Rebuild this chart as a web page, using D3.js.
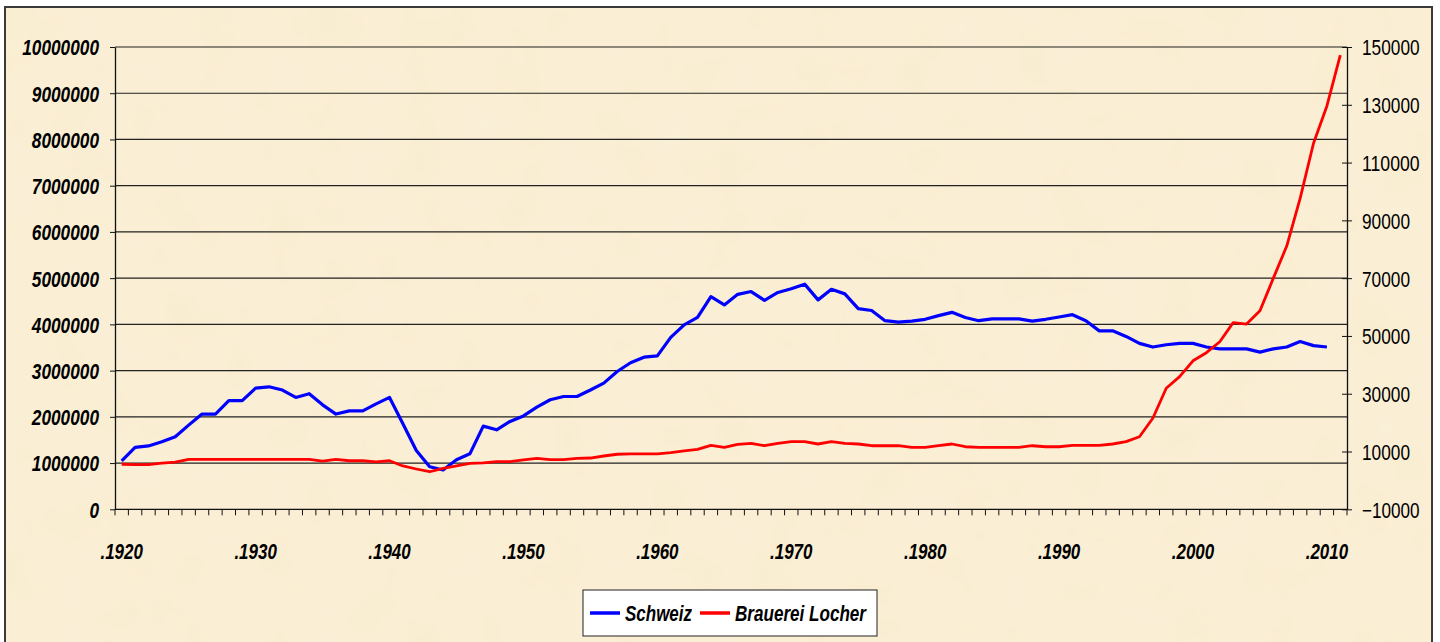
<!DOCTYPE html>
<html>
<head>
<meta charset="utf-8">
<script src="https://cdn.jsdelivr.net/npm/d3@7"></script>
<style>
  body { margin: 0; background: #fff; }
  text { font-family: "Liberation Sans", Arial, sans-serif; }
</style>
</head>
<body>
<svg id="chart" width="1440" height="642"></svg>
<script>
// categories: one per year, 1920 .. 2011
var years = d3.range(1920, 2012)

// Schweiz (left axis), 1920 .. 2010
var schweiz = [
  1045000, 1340000, 1370000, 1460000, 1570000, 1820000, 2060000, 2060000, 2350000, 2350000,
  2620000, 2650000, 2580000, 2420000, 2500000, 2260000, 2060000, 2130000, 2130000, 2280000,
  2420000, 1850000, 1270000, 920000, 850000, 1070000, 1200000, 1800000, 1720000, 1900000,
  2020000, 2210000, 2370000, 2440000, 2440000, 2580000, 2730000, 2980000, 3170000, 3290000,
  3320000, 3720000, 3990000, 4150000, 4600000, 4420000, 4650000, 4710000, 4520000, 4690000,
  4770000, 4870000, 4530000, 4760000, 4660000, 4340000, 4300000, 4080000, 4050000, 4070000,
  4110000, 4190000, 4260000, 4150000, 4080000, 4120000, 4120000, 4120000, 4070000, 4110000,
  4160000, 4210000, 4080000, 3860000, 3860000, 3740000, 3590000, 3510000, 3560000, 3590000,
  3590000, 3510000, 3470000, 3470000, 3470000, 3400000, 3470000, 3510000, 3630000, 3540000,
  3510000
]

// Brauerei Locher (right axis), 1920 .. 2011
var locher = [
  5600, 5450, 5450, 6000, 6300, 7300, 7300, 7300, 7300, 7300,
  7300, 7300, 7300, 7300, 7300, 6700, 7300, 6800, 6800, 6400,
  6800, 5000, 3950, 3000, 4200, 5000, 5900, 6100, 6500, 6500,
  7100, 7650, 7200, 7200, 7650, 7750, 8450, 9050, 9150, 9150,
  9150, 9600, 10200, 10750, 12150, 11450, 12500, 12850, 12000, 12850,
  13400, 13400, 12600, 13400, 12850, 12600, 12000, 12000, 12000, 11450,
  11450, 12000, 12600, 11650, 11450, 11450, 11450, 11450, 12000, 11650,
  11650, 12150, 12150, 12150, 12600, 13400, 15100, 21500, 31900, 35900,
  41400, 44200, 48000, 54600, 54100, 58700, 70000, 81100, 97600, 116700,
  129600, 147200
]

var leftTicks = [0, 1000000, 2000000, 3000000, 4000000, 5000000, 6000000, 7000000, 8000000, 9000000, 10000000]
  , rightTicks = [-10000, 10000, 30000, 50000, 70000, 90000, 110000, 130000, 150000]
  , yearLabels = [1920, 1930, 1940, 1950, 1960, 1970, 1980, 1990, 2000, 2010]
  , seriesNames = ['Schweiz', 'Brauerei Locher']
  , seriesColors = ['#0000ff', '#ff0000']

var svg = d3.select('svg#chart')
  , plotL = 115, plotR = 1347, plotT = 47, plotB = 509.3
  , charW = 9.6

// parchment-like texture
var filt = svg.append('defs').append('filter').attr('id', 'paper')
  .attr('x', 0).attr('y', 0).attr('width', '100%').attr('height', '100%')
filt.append('feTurbulence').attr('type', 'fractalNoise')
  .attr('baseFrequency', '0.02').attr('numOctaves', 3).attr('seed', 4).attr('result', 'noise')
filt.append('feColorMatrix').attr('in', 'noise').attr('type', 'matrix')
  .attr('values', '0 0 0 0 1  0 0 0 0 0.97  0 0 0 0 0.88  0 0 0 0.22 0')
  .attr('result', 'tint')
filt.append('feComposite').attr('in', 'tint').attr('in2', 'SourceGraphic').attr('operator', 'atop')

// background and frame
svg.append('rect')
  .attr('x', 5).attr('y', 7).attr('width', 1427).attr('height', 640)
  .attr('fill', '#f9ecd0')
svg.append('rect')
  .attr('x', 5).attr('y', 7).attr('width', 1427).attr('height', 640)
  .attr('fill', '#f9ecd0').attr('filter', 'url(#paper)')
svg.append('rect')
  .attr('x', 5).attr('y', 7).attr('width', 1427).attr('height', 640)
  .attr('fill', 'none').attr('stroke', '#3a3a3a').attr('stroke-width', 2)

var x = d3.scaleBand().domain(years).range([plotL, plotR]).padding(0)
  , yL = d3.scaleLinear().domain([0, 10000000]).range([plotB, plotT])
  , yR = d3.scaleLinear().domain([-10000, 150000]).range([plotB, plotT])
  , cx = function(yr) { return x(yr) + x.bandwidth() / 2 }

// gridlines
svg.append('g').selectAll('line').data(leftTicks.slice(1))
  .enter().append('line')
  .attr('x1', plotL).attr('x2', plotR)
  .attr('y1', function(d) { return yL(d) }).attr('y2', function(d) { return yL(d) })
  .attr('stroke', '#222').attr('stroke-width', 1.2)

// left axis
var gL = svg.append('g').attr('transform', 'translate(' + plotL + ',0)')
  .call(d3.axisLeft(yL).tickValues(leftTicks).tickSize(5).tickSizeOuter(0).tickFormat(d3.format('d')))
gL.select('.domain').attr('stroke', '#111').attr('stroke-width', 1.3)
gL.selectAll('.tick line').attr('stroke', '#111')
gL.selectAll('.tick text')
  .attr('x', -16).attr('dy', '0.36em')
  .style('font-size', '22px').style('font-weight', 'bold').style('font-style', 'italic')
  .attr('fill', '#000')
  .attr('textLength', function(d) { return String(d).length * charW })
  .attr('lengthAdjust', 'spacingAndGlyphs')

// right axis (ticks cross the line)
var gR = svg.append('g').attr('transform', 'translate(' + plotR + ',0)')
  .call(d3.axisRight(yR).tickValues(rightTicks).tickSize(5).tickSizeOuter(0).tickFormat(d3.format('d')))
gR.select('.domain').attr('stroke', '#111').attr('stroke-width', 1.3)
gR.selectAll('.tick line').attr('x1', -5).attr('stroke', '#111')
gR.selectAll('.tick text')
  .attr('x', 15).attr('dy', '0.36em')
  .style('font-size', '22px')
  .attr('fill', '#000')
  .attr('textLength', function(d) { return String(d).length * charW })
  .attr('lengthAdjust', 'spacingAndGlyphs')

// x axis
var gX = svg.append('g')
gX.append('line')
  .attr('x1', plotL).attr('x2', plotR).attr('y1', plotB).attr('y2', plotB)
  .attr('stroke', '#111').attr('stroke-width', 1.3)
gX.selectAll('line.minor').data(years.concat([null]))
  .enter().append('line').attr('class', 'minor')
  .attr('x1', function(d) { return d === null ? plotR : x(d) })
  .attr('x2', function(d) { return d === null ? plotR : x(d) })
  .attr('y1', plotB).attr('y2', plotB + 6)
  .attr('stroke', '#111')
gX.selectAll('text').data(yearLabels)
  .enter().append('text')
  .attr('x', cx).attr('y', 559)
  .attr('text-anchor', 'middle')
  .style('font-size', '22px').style('font-weight', 'bold').style('font-style', 'italic')
  .attr('textLength', function(d) { return 4 + 4 * charW })
  .attr('lengthAdjust', 'spacingAndGlyphs')
  .text(function(d) { return '.' + d })

// series
var lineL = d3.line().x(function(d) { return cx(d.year) }).y(function(d) { return yL(d.v) })
  , lineR = d3.line().x(function(d) { return cx(d.year) }).y(function(d) { return yR(d.v) })

svg.append('path')
  .datum(schweiz.map(function(v, i) { return { year: years[i], v: v } }))
  .attr('d', lineL).attr('fill', 'none')
  .attr('stroke', seriesColors[0]).attr('stroke-width', 3.2).attr('stroke-linejoin', 'round')

svg.append('path')
  .datum(locher.map(function(v, i) { return { year: years[i], v: v } }))
  .attr('d', lineR).attr('fill', 'none')
  .attr('stroke', seriesColors[1]).attr('stroke-width', 2.8).attr('stroke-linejoin', 'round')

// legend
var lg = svg.append('g').attr('transform', 'translate(583,590)')
lg.append('rect').attr('width', 294).attr('height', 46)
  .attr('fill', '#fff').attr('stroke', '#222').attr('stroke-width', 1)
var lgX = [7, 117]
  , lgW = [67, 131]
seriesNames.forEach(function(name, i) {
  lg.append('line')
    .attr('x1', lgX[i]).attr('x2', lgX[i] + 30).attr('y1', 23).attr('y2', 23)
    .attr('stroke', seriesColors[i]).attr('stroke-width', 3.5)
  lg.append('text')
    .attr('x', lgX[i] + 35).attr('y', 31)
    .style('font-size', '22px').style('font-weight', 'bold').style('font-style', 'italic')
    .attr('textLength', lgW[i]).attr('lengthAdjust', 'spacingAndGlyphs')
    .text(name)
})
</script>
</body>
</html>
